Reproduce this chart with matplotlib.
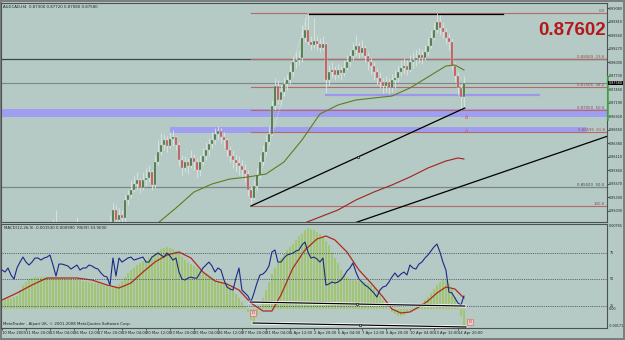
import matplotlib
matplotlib.use('Agg')
import matplotlib.pyplot as plt
import matplotlib.transforms as mtransforms

# AUDCAD H4, bar 0 = 10 Mar 2009 12:00, one bar every 4 hours
closes = [0.8424, 0.8432, 0.8428, 0.8436, 0.8444, 0.8440, 0.8448, 0.8444, 0.8452, 0.8448,
          0.8456, 0.8452, 0.8460, 0.8456, 0.8464, 0.8460, 0.8468, 0.8472, 0.8474, 0.8464,
          0.8456, 0.8452, 0.8448, 0.8454, 0.8460, 0.8468, 0.8460, 0.8452, 0.8448, 0.8444,
          0.8450, 0.8456, 0.8460, 0.8464, 0.8468, 0.8472, 0.8480, 0.8504, 0.8484, 0.8494,
          0.8488, 0.8524, 0.8534, 0.8544, 0.8556, 0.8564, 0.8548, 0.8564, 0.8568, 0.8580,
          0.8554, 0.8600, 0.8620, 0.8634, 0.8644, 0.8632, 0.8646, 0.8650, 0.8634, 0.8604,
          0.8588, 0.8600, 0.8592, 0.8608, 0.8600, 0.8584, 0.8600, 0.8612, 0.8624, 0.8636,
          0.8644, 0.8656, 0.8662, 0.8650, 0.8644, 0.8624, 0.8612, 0.8604, 0.8598, 0.8592,
          0.8584, 0.8576, 0.8544, 0.8528, 0.8552, 0.8574, 0.8600, 0.8620, 0.8640, 0.8656,
          0.8712, 0.8752, 0.8724, 0.8740, 0.8756, 0.8764, 0.8780, 0.8800, 0.8804, 0.8808,
          0.8848, 0.8864, 0.8840, 0.8834, 0.8842, 0.8836, 0.8828, 0.8836, 0.8764, 0.8780,
          0.8784, 0.8774, 0.8784, 0.8778, 0.8788, 0.8800, 0.8812, 0.8824, 0.8832, 0.8818,
          0.8828, 0.8812, 0.8800, 0.8792, 0.8780, 0.8768, 0.8760, 0.8752, 0.8760, 0.8748,
          0.8764, 0.8768, 0.8780, 0.8788, 0.8792, 0.8784, 0.8800, 0.8804, 0.8808, 0.8814,
          0.8808, 0.8820, 0.8832, 0.8848, 0.8864, 0.8880, 0.8868, 0.8860, 0.8848, 0.8840,
          0.8792, 0.8772, 0.8748, 0.8730, 0.8758]
highs = [0.8436, 0.8444, 0.8440, 0.8448, 0.8456, 0.8452, 0.8460, 0.8458, 0.8464, 0.8462,
         0.8468, 0.8466, 0.8472, 0.8468, 0.8476, 0.8474, 0.8478, 0.8486, 0.8504, 0.8480,
         0.8472, 0.8466, 0.8464, 0.8468, 0.8474, 0.8490, 0.8476, 0.8468, 0.8462, 0.8458,
         0.8464, 0.8470, 0.8474, 0.8476, 0.8478, 0.8480, 0.8494, 0.8518, 0.8514, 0.8508,
         0.8504, 0.8534, 0.8544, 0.8564, 0.8572, 0.8580, 0.8568, 0.8580, 0.8588, 0.8594,
         0.8584, 0.8614, 0.8644, 0.8658, 0.8656, 0.8652, 0.8660, 0.8664, 0.8654, 0.8640,
         0.8614, 0.8612, 0.8608, 0.8624, 0.8616, 0.8608, 0.8614, 0.8628, 0.8640, 0.8648,
         0.8660, 0.8668, 0.8672, 0.8668, 0.8660, 0.8648, 0.8632, 0.8624, 0.8616, 0.8612,
         0.8604, 0.8596, 0.8584, 0.8552, 0.8564, 0.8588, 0.8614, 0.8634, 0.8654, 0.8672,
         0.8724, 0.8768, 0.8764, 0.8754, 0.8770, 0.8776, 0.8796, 0.8812, 0.8820, 0.8824,
         0.8874, 0.8888, 0.8898, 0.8852, 0.8888, 0.8852, 0.8848, 0.8852, 0.8840, 0.8794,
         0.8800, 0.8792, 0.8796, 0.8792, 0.8804, 0.8814, 0.8824, 0.8840, 0.8854, 0.8840,
         0.8844, 0.8834, 0.8820, 0.8808, 0.8800, 0.8788, 0.8780, 0.8768, 0.8772, 0.8768,
         0.8776, 0.8784, 0.8794, 0.8804, 0.8808, 0.8804, 0.8814, 0.8820, 0.8824, 0.8828,
         0.8824, 0.8834, 0.8848, 0.8864, 0.8880, 0.8898, 0.8894, 0.8880, 0.8868, 0.8858,
         0.8848, 0.8800, 0.8780, 0.8756, 0.8772]
lows = [0.8412, 0.8420, 0.8416, 0.8424, 0.8428, 0.8424, 0.8436, 0.8432, 0.8438, 0.8434,
        0.8442, 0.8440, 0.8444, 0.8442, 0.8448, 0.8446, 0.8452, 0.8456, 0.8460, 0.8452,
        0.8444, 0.8438, 0.8434, 0.8440, 0.8444, 0.8452, 0.8448, 0.8440, 0.8432, 0.8430,
        0.8436, 0.8442, 0.8446, 0.8450, 0.8454, 0.8458, 0.8466, 0.8476, 0.8472, 0.8476,
        0.8474, 0.8480, 0.8514, 0.8528, 0.8540, 0.8544, 0.8538, 0.8544, 0.8552, 0.8560,
        0.8544, 0.8548, 0.8594, 0.8614, 0.8624, 0.8620, 0.8628, 0.8632, 0.8624, 0.8592,
        0.8572, 0.8580, 0.8576, 0.8588, 0.8584, 0.8568, 0.8572, 0.8594, 0.8604, 0.8612,
        0.8628, 0.8636, 0.8644, 0.8638, 0.8628, 0.8612, 0.8600, 0.8588, 0.8580, 0.8574,
        0.8568, 0.8560, 0.8532, 0.8512, 0.8524, 0.8544, 0.8568, 0.8594, 0.8614, 0.8634,
        0.8652, 0.8704, 0.8716, 0.8714, 0.8732, 0.8744, 0.8756, 0.8772, 0.8788, 0.8794,
        0.8800, 0.8840, 0.8834, 0.8824, 0.8828, 0.8824, 0.8820, 0.8824, 0.8738, 0.8754,
        0.8768, 0.8764, 0.8768, 0.8764, 0.8772, 0.8784, 0.8792, 0.8804, 0.8812, 0.8808,
        0.8812, 0.8800, 0.8784, 0.8776, 0.8764, 0.8756, 0.8748, 0.8738, 0.8740, 0.8736,
        0.8740, 0.8748, 0.8760, 0.8772, 0.8776, 0.8774, 0.8780, 0.8788, 0.8792, 0.8798,
        0.8796, 0.8804, 0.8814, 0.8828, 0.8844, 0.8858, 0.8854, 0.8848, 0.8836, 0.8824,
        0.8784, 0.8760, 0.8734, 0.8704, 0.8708]

# moving averages (sampled bars)
ma_green_idx = [45, 52, 58, 64, 70, 76, 82, 88, 94, 100, 106, 112, 118, 124, 130, 136, 142, 148, 151, 154]
ma_green = [0.8454, 0.8478, 0.8508, 0.8540, 0.8556, 0.8566, 0.8570, 0.8576, 0.8600, 0.8644,
            0.8696, 0.8714, 0.8724, 0.8728, 0.8732, 0.8748, 0.8770, 0.8792, 0.8794, 0.8784]
ma_red_idx = [94, 100, 106, 112, 118, 124, 130, 136, 142, 148, 152, 154]
ma_red = [0.8460, 0.8476, 0.8490, 0.8504, 0.8524, 0.8540, 0.8554, 0.8570, 0.8588, 0.8602, 0.8608, 0.8606]

# fibonacci retracement low (27 Mar) -> high (2 Apr)
fib_levels = [0.0, 23.6, 38.2, 50.0, 61.8, 100.0]
fib_hi, fib_lo = 0.8898, 0.8512
fib_hi_bar, fib_lo_bar = 102, 83

# other drawn objects
full_lines = [0.8807, 0.8550]
band1 = (0.8690, 0.8706)
band2 = (0.8658, 0.8670, 56, 195)
blue_line = (0.8734, 108, 179)
top_line = (0.8896, 102, 167)
trend1 = ([83, 154.3], [0.8512, 0.8708])
trend2 = ([100, 203], [0.8442, 0.8654])
arrow_marks = [0.8690, 0.8662]

# MACD histogram, signal and RSI(9)
macd_hist = [0.00081, 0.00090, 0.00099, 0.00099, 0.00108, 0.00117, 0.00171, 0.00216, 0.00243, 0.00270,
             0.00279, 0.00288, 0.00288, 0.00288, 0.00288, 0.00288, 0.00288, 0.00288, 0.00288, 0.00279,
             0.00279, 0.00279, 0.00270, 0.00270, 0.00261, 0.00261, 0.00261, 0.00252, 0.00252, 0.00243,
             0.00243, 0.00234, 0.00234, 0.00225, 0.00216, 0.00207, 0.00198, 0.00198, 0.00207, 0.00225,
             0.00252, 0.00288, 0.00324, 0.00351, 0.00369, 0.00396, 0.00414, 0.00432, 0.00441, 0.00459,
             0.00477, 0.00504, 0.00522, 0.00540, 0.00549, 0.00558, 0.00549, 0.00540, 0.00522, 0.00495,
             0.00468, 0.00441, 0.00423, 0.00405, 0.00387, 0.00369, 0.00351, 0.00333, 0.00315, 0.00297,
             0.00279, 0.00261, 0.00252, 0.00243, 0.00234, 0.00216, 0.00198, 0.00171, 0.00135, 0.00099,
             0.00063, 0.00027, -0.00027, -0.00099, -0.00126, -0.00054, 0.00027, 0.00099, 0.00171, 0.00243,
             0.00315, 0.00369, 0.00414, 0.00459, 0.00495, 0.00531, 0.00558, 0.00585, 0.00621, 0.00657,
             0.00684, 0.00711, 0.00729, 0.00720, 0.00711, 0.00693, 0.00675, 0.00648, 0.00612, 0.00576,
             0.00513, 0.00459, 0.00414, 0.00351, 0.00315, 0.00288, 0.00270, 0.00261, 0.00261, 0.00252,
             0.00252, 0.00243, 0.00234, 0.00216, 0.00189, 0.00153, 0.00117, 0.00081, 0.00045, 0.00009,
             -0.00027, -0.00045, -0.00063, -0.00063, -0.00054, -0.00036, -0.00018, 0.00009, 0.00018, 0.00036,
             0.00054, 0.00081, 0.00108, 0.00144, 0.00180, 0.00216, 0.00243, 0.00261, 0.00261, 0.00234,
             0.00180, 0.00108, 0.00027, -0.00063, -0.00153]
signal_idx = [0, 5, 10, 15, 20, 25, 30, 35, 39, 43, 47, 51, 55, 59, 63, 67, 71, 75, 79, 83, 87, 90,
              93, 97, 101, 105, 108, 111, 115, 119, 123, 127, 130, 133, 136, 139, 142, 145, 148, 151, 154]
signal = [0.00081, 0.00144, 0.00216, 0.00279, 0.00279, 0.00279, 0.00261, 0.00216, 0.00189, 0.00234,
          0.00333, 0.00423, 0.00486, 0.00513, 0.00459, 0.00333, 0.00252, 0.00225, 0.00171, 0.00054,
          -0.00018, -0.00018, 0.00126, 0.00369, 0.00531, 0.00630, 0.00657, 0.00621, 0.00513, 0.00351,
          0.00234, 0.00108, 0.00000, -0.00036, -0.00027, 0.00018, 0.00072, 0.00144, 0.00198, 0.00180,
          0.00099]
rsi = [58.5, 56.6, 60.4, 53.8, 50.0, 60.4, 66.0, 70.7, 66.0, 63.2,
       66.0, 69.8, 69.8, 67.9, 69.8, 70.7, 72.6, 63.2, 52.8, 64.1,
       64.1, 63.2, 62.3, 59.4, 61.3, 63.2, 58.5, 60.4, 60.4, 63.2,
       62.3, 60.4, 59.4, 55.7, 52.8, 51.9, 44.3, 69.8, 52.8, 69.8,
       66.0, 67.9, 69.8, 70.7, 67.9, 68.9, 69.8, 70.7, 66.0, 66.0,
       70.7, 72.6, 74.5, 72.6, 70.7, 74.5, 71.7, 67.9, 69.8, 56.6,
       50.0, 49.1, 50.9, 51.9, 50.9, 50.9, 55.7, 60.4, 63.2, 66.0,
       62.3, 56.6, 60.4, 58.5, 49.1, 42.5, 40.6, 39.6, 50.9, 60.4,
       39.6, 36.8, 34.0, 28.3, 36.8, 46.2, 53.8, 54.7, 57.5, 62.3,
       75.5, 77.4, 66.0, 66.0, 69.8, 72.6, 73.6, 74.5, 76.4, 77.4,
       82.1, 84.9, 75.5, 69.8, 70.7, 68.9, 66.0, 69.8, 44.3, 45.3,
       47.2, 46.2, 47.2, 49.1, 52.8, 57.5, 60.4, 65.1, 56.6, 50.0,
       47.2, 44.3, 42.5, 39.6, 36.8, 33.0, 39.6, 42.5, 43.4, 47.2,
       51.9, 55.7, 51.9, 54.7, 56.6, 53.8, 63.2, 60.4, 59.4, 64.1,
       66.0, 69.8, 72.6, 76.4, 80.2, 83.0, 75.5, 66.0, 58.5, 37.7,
       36.8, 32.1, 27.4, 25.5, 33.9]
rsi_levels = [75, 50, 25]
macd_div = ([83.7, 154.7], [-0.00126, -0.00162])
rsi_div = ([82.7, 154.3], [28.3, 24.5])

time_labels = ['10 Mar 2009', '11 Mar 20:00', '13 Mar 04:00', '16 Mar 12:00', '17 Mar 20:00',
               '19 Mar 04:00', '20 Mar 12:00', '23 Mar 20:00', '25 Mar 04:00', '26 Mar 12:00',
               '27 Mar 20:00', '31 Mar 04:00', '1 Apr 12:00', '2 Apr 20:00', '6 Apr 04:00',
               '7 Apr 12:00', '8 Apr 20:00', '10 Apr 04:00', '13 Apr 12:00', '14 Apr 20:00']
time_ticks = [0, 8, 16, 24, 32, 40, 48, 56, 64, 72, 80, 88, 96, 104, 112, 120, 128, 136, 144, 152]
price_ticks = [0.8908, 0.8881, 0.8854, 0.8827, 0.8800, 0.8773, 0.8746, 0.8719, 0.8692, 0.8665,
               0.8638, 0.8611, 0.8584, 0.8557, 0.8530, 0.8503]

bg = '#b5c9c5'
W, H = 625, 340
fig = plt.figure(figsize=(W / 100, H / 100), dpi=100, facecolor=bg)
fig.patch.set_edgecolor('#7a7f80')
fig.patch.set_linewidth(1.5)

ax = fig.add_axes([1 / W, 118 / H, 606 / W, 219 / H], facecolor=bg)
low_ax = fig.add_axes([1 / W, 12 / H, 606 / W, 104 / H], facecolor=bg)
xlim = (-0.333, 201.7)
lab_fs = 2.4

# ---------------- main price panel ----------------
ax.set_xlim(*xlim)
ax.set_ylim(0.8480, 0.8918)
n = len(closes)
bars = list(range(n))
opens = [closes[0]] + closes[:-1]

ax.axhspan(band1[0], band1[1], color='#a09ef0', lw=0, zorder=1)
ax.fill_between([band2[2], band2[3]], band2[0], band2[1], color='#a09ef0', lw=0, zorder=1)

for p in full_lines:
    ax.axhline(p, color='#3d4545' if p > 0.87 else '#7d8787', lw=0.9, zorder=1.5)
ax.axhline(closes[-1], color='#7d8787', lw=0.8, zorder=1.5)

fib_prices = [fib_hi - (fib_hi - fib_lo) * lv / 100 for lv in fib_levels]
for lv, p in zip(fib_levels, fib_prices):
    ax.plot([fib_lo_bar, xlim[1]], [p, p], color='#b46a6a', lw=0.8, zorder=1.6)
    if lv in (0.0, 100.0):
        lab = f'{lv:.1f}'
    else:
        lab = f'{p:.5f}  {lv:.1f}'
    ax.text(xlim[1] - 0.8, p, lab, ha='right', va='bottom', fontsize=2.8, color='#9a4a4a', zorder=6)
ax.text(xlim[1] - 0.8, full_lines[1], f'{full_lines[1]:.5f}  50.0', ha='right', va='bottom',
        fontsize=2.8, color='#404848', zorder=6)
ax.plot([fib_lo_bar, fib_hi_bar], [fib_lo, fib_hi], color='#e6eeee', lw=0.6, ls=(0, (1, 1.5)), zorder=2)

ax.plot([blue_line[1], blue_line[2]], [blue_line[0]] * 2, color='#9a98ea', lw=1.6, zorder=2)
ax.plot([top_line[1], top_line[2]], [top_line[0]] * 2, color='black', lw=0.9, zorder=2)

# candles
wick_lo = [min(l, o, c) for l, o, c in zip(lows, opens, closes)]
wick_hi = [max(h, o, c) for h, o, c in zip(highs, opens, closes)]
ax.vlines(bars, wick_lo, wick_hi, color='#dde5e3', lw=0.6, zorder=3)
body_bot = [min(o, c) for o, c in zip(opens, closes)]
body_h = [max(abs(c - o), 0.00008) for o, c in zip(opens, closes)]
body_col = ['#3e6e34' if c >= o else '#c24b4b' for o, c in zip(opens, closes)]
ax.bar(bars, body_h, bottom=body_bot, width=0.75, color=body_col, edgecolor='#d8e2de', lw=0.25, zorder=4)

ax.plot(ma_green_idx, ma_green, color='#5e7d1e', lw=0.8, zorder=5)
ax.plot(ma_red_idx, ma_red, color='#a32020', lw=0.8, zorder=5)

ax.plot(trend1[0], trend1[1], color='black', lw=0.9, zorder=5)
ax.plot([sum(trend1[0]) / 2], [sum(trend1[1]) / 2], marker='s', ms=1.6, mfc=bg, mec='black', mew=0.4, zorder=6)
ax.plot(trend2[0], trend2[1], color='black', lw=0.9, zorder=5)
for p in arrow_marks:
    ax.text(155, p, 'ô', fontsize=4, color='#d0506a', ha='center', va='center', zorder=6)

ax.yaxis.tick_right()
ax.set_yticks(price_ticks)
ax.set_yticklabels([f'{p:.5f}' for p in price_ticks])
ax.tick_params(axis='y', labelsize=lab_fs, length=1.2, pad=0.4, colors='#1e2424', width=0.5)
ax.set_xticks([])
for s in ax.spines.values():
    s.set_color('#4a5252')
    s.set_linewidth(0.8)

ytr = mtransforms.blended_transform_factory(ax.transAxes, ax.transData)
ax.plot([1.001, 1.001], [0.8684, 0.8770], transform=ytr, color='#3cb043', lw=1.2, clip_on=False, zorder=7)
ax.text(1.003, closes[-1], f'{closes[-1]:.5f}', transform=ytr, fontsize=lab_fs, color='white', va='center',
        ha='left', bbox=dict(boxstyle='square,pad=0.1', fc='black', ec='none'), zorder=8)

ax.text(0.004, 0.99, f'AUDCAD,H4  {opens[-1]:.5f} {highs[-1]:.5f} {lows[-1]:.5f} {closes[-1]:.5f}',
        transform=ax.transAxes, fontsize=2.8, va='top', ha='left', color='#1e2424')
ax.text(0.998, 0.875, '0.87602', transform=ax.transAxes, ha='right', va='center', fontsize=13.5,
        fontweight='bold', family='Liberation Sans', color='#b2191c', zorder=9)

# ---------------- lower indicator panel ----------------
low_ax.set_xlim(*xlim)
low_ax.set_ylim(-0.00171, 0.00765)
low_ax.bar(bars, macd_hist, width=0.85, color='#9ec272', edgecolor='#b8d29a', lw=0.2, zorder=2)
low_ax.plot(signal_idx, signal, color='#b02a1c', lw=0.9, zorder=4)
low_ax.plot(macd_div[0], macd_div[1], color='white', lw=2.0, zorder=5)
low_ax.plot(macd_div[0], macd_div[1], color='black', lw=0.9, zorder=6)
low_ax.plot([sum(macd_div[0]) / 2], [sum(macd_div[1]) / 2], marker='s', ms=1.5, mfc=bg, mec='black', mew=0.4, zorder=7)
for xb, yv in [(83.7, -0.00036), (156, -0.00117)]:
    low_ax.text(xb, yv, 'D', fontsize=3.0, color='#c23a3a', ha='center', va='center', zorder=8,
                bbox=dict(boxstyle='square,pad=0.25', fc='#e8cccc', ec='#e07070', lw=0.5))
low_ax.set_xticks(time_ticks)
low_ax.set_xticklabels(time_labels)
low_ax.tick_params(axis='x', labelsize=2.7, length=1.5, pad=0.8, colors='#1e2424', width=0.5)
for lab in low_ax.get_xticklabels():
    lab.set_ha('left')
low_ax.set_yticks([])
for s in low_ax.spines.values():
    s.set_color('#4a5252')
    s.set_linewidth(0.8)

rsi_ax = low_ax.twinx()
rsi_ax.set_xlim(*xlim)
rsi_ax.set_ylim(3.8, 101.9)
rtr = mtransforms.blended_transform_factory(rsi_ax.transAxes, rsi_ax.transData)
for lv in rsi_levels:
    rsi_ax.axhline(lv, color='#3c4660', lw=0.6, ls=(0, (1, 1.2)), zorder=1)
    rsi_ax.text(1.004, lv, str(lv), transform=rtr, fontsize=lab_fs, va='center', ha='left', color='#1e2424')
rsi_ax.plot(bars, rsi, color='#1b2a86', lw=0.8, zorder=5)
rsi_ax.plot(rsi_div[0], rsi_div[1], color='white', lw=2.0, zorder=5)
rsi_ax.plot(rsi_div[0], rsi_div[1], color='black', lw=0.9, zorder=6)
rsi_ax.plot([sum(rsi_div[0]) / 2], [sum(rsi_div[1]) / 2], marker='s', ms=1.5, mfc=bg, mec='black', mew=0.4, zorder=7)
rsi_ax.set_yticks([])
for s in rsi_ax.spines.values():
    s.set_visible(False)

mtr = mtransforms.blended_transform_factory(low_ax.transAxes, low_ax.transData)
for v, lab, va in [(0.00765, '0.00765', 'top'), (0.0, '0.00', 'center'), (-0.00171, '-0.00171', 'bottom')]:
    low_ax.text(1.003, v, lab, transform=mtr, fontsize=lab_fs, va=va, ha='left', color='#1e2424')

low_ax.text(0.005, 0.985, f'MACD(12,26,9) {macd_hist[-1]:.6f} {signal[-1]:.6f}  RSI(9) {rsi[-1]:.4f}',
            transform=low_ax.transAxes, fontsize=2.8, va='top', ha='left', color='#1e2424', zorder=9)
low_ax.text(0.003, 0.02, 'MetaTrader - Alpari UK, © 2001-2008 MetaQuotes Software Corp.',
            transform=low_ax.transAxes, fontsize=2.8, va='bottom', ha='left', color='#1e2424', zorder=9)

fig.savefig('out.png', dpi=100, facecolor=bg, edgecolor=fig.patch.get_edgecolor())
